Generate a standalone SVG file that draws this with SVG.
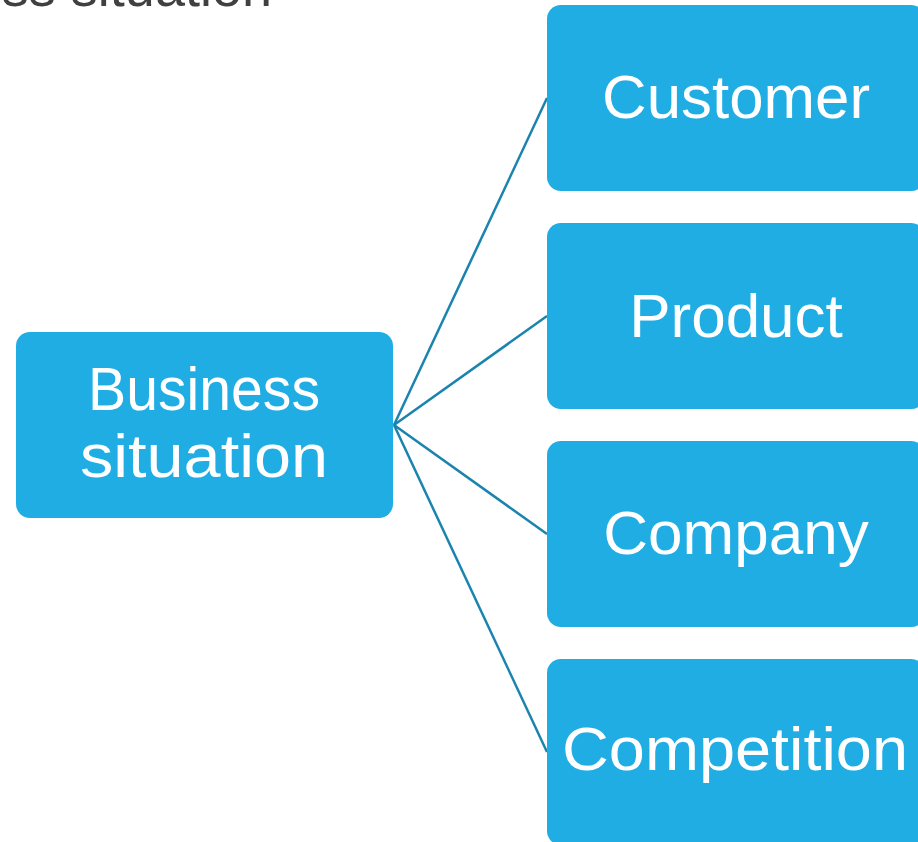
<svg xmlns="http://www.w3.org/2000/svg" width="918" height="842" viewBox="0 0 918 842">
<style>
.box{fill:#1FADE4;}
.lbl{font-family:"Liberation Sans",Arial,sans-serif;fill:#FFFFFF;text-anchor:middle;font-size:62px;}
.conn{stroke:#1A84AE;stroke-width:2.5;fill:none;}
.title{font-family:"Liberation Sans",Arial,sans-serif;fill:#404040;font-size:54px;}
</style>
<rect width="918" height="842" fill="#FFFFFF"/>
<text class="title" x="272" y="6" text-anchor="end">ss situation</text>
<g id="connectors">
<line class="conn" x1="394" y1="425" x2="547" y2="98"/>
<line class="conn" x1="394" y1="425" x2="547" y2="316"/>
<line class="conn" x1="394" y1="425" x2="547" y2="534"/>
<line class="conn" x1="394" y1="425" x2="547" y2="752"/>
</g>
<g id="business">
<rect class="box" x="16" y="332" width="377" height="186" rx="14"/>
<text class="lbl" x="204" y="410" textLength="232" lengthAdjust="spacingAndGlyphs">Business</text>
<text class="lbl" x="204" y="477" textLength="248" lengthAdjust="spacingAndGlyphs">situation</text>
</g>
<g id="customer">
<rect class="box" x="547" y="5" width="378" height="186" rx="14"/>
<text class="lbl" x="736" y="118" textLength="268" lengthAdjust="spacingAndGlyphs">Customer</text>
</g>
<g id="product">
<rect class="box" x="547" y="223" width="378" height="186" rx="14"/>
<text class="lbl" x="736" y="337">Product</text>
</g>
<g id="company">
<rect class="box" x="547" y="441" width="378" height="186" rx="14"/>
<text class="lbl" x="736" y="554">Company</text>
</g>
<g id="competition">
<rect class="box" x="547" y="659" width="378" height="186" rx="14"/>
<text class="lbl" x="735" y="770" textLength="346" lengthAdjust="spacingAndGlyphs">Competition</text>
</g>
</svg>
